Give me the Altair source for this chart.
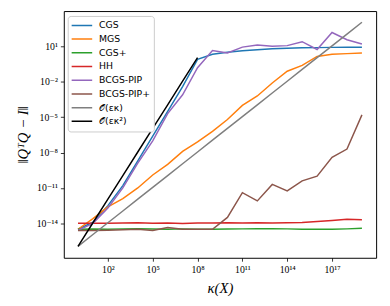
import altair as alt
import pandas as pd
import math

kappa = [1e0, 1e1, 1e2, 1e3, 1e4, 1e5, 1e6, 1e7, 1e8, 1e9,
         1e10, 1e11, 1e12, 1e13, 1e14, 1e15, 1e16, 1e17, 1e18, 1e19]

# log10 of ||Q^T Q - I||
cgs = [-14.5, -13.9, -12.5, -10.8, -8.7, -6.6, -4.5, -2.4, -0.1, 0.33,
       0.5, 0.63, 0.72, 0.8, 0.85, 0.88, 0.9, 0.92, 0.93, 0.94]
mgs = [-14.5, -13.6, -12.6, -11.9, -11.0, -9.9, -9.0, -7.9, -7.1, -6.2,
       -5.2, -4.0, -3.2, -2.1, -1.1, -0.6, 0.15, 0.33, 0.39, 0.45]
cgs_plus = [-14.5, -14.48, -14.5, -14.47, -14.45, -14.48, -14.5, -14.47, -14.5, -14.5,
            -14.48, -14.47, -14.45, -14.45, -14.47, -14.5, -14.5, -14.5, -14.47, -14.42]
hh = [-14.0, -14.0, -14.0, -13.98, -13.95, -14.0, -13.98, -14.02, -13.97, -13.97,
      -13.95, -13.97, -13.95, -13.98, -13.95, -13.93, -13.85, -13.75, -13.65, -13.7]
bcgs_pip = [-14.6, -14.0, -12.7, -11.0, -8.9, -7.0, -4.7, -3.1, -0.8, 0.66,
            0.45, 0.94, 1.13, 1.02, 1.07, 1.4, 0.74, 2.18, 1.57, 1.21]
bcgs_pip_plus = [-14.6, -14.6, -14.58, -14.55, -14.5, -14.6, -14.35, -14.5, -14.5, -14.5,
                 -13.5, -11.4, -12.1, -10.7, -11.25, -10.4, -10.0, -8.4, -7.7, -4.8]
o_eps_kappa = [-15.95, -14.95, -13.95, -12.95, -11.95, -10.95, -9.95, -8.95, -7.95, -6.95,
               -5.95, -4.95, -3.95, -2.95, -1.95, -0.95, 0.05, 1.05, 2.05, 3.05]
o_eps_kappa2 = [-15.95, -13.95, -11.95, -9.95, -7.95, -5.95, -3.95, -1.95, 0.05]

names = ["CGS", "MGS", "CGS+", "HH", "BCGS-PIP", "BCGS-PIP+", "𝒪(εκ)", "𝒪(εκ²)"]
colors = ["#1f77b4", "#ff7f0e", "#2ca02c", "#d62728", "#9467bd", "#8c564b", "#7f7f7f", "#000000"]
series = [cgs, mgs, cgs_plus, hh, bcgs_pip, bcgs_pip_plus, o_eps_kappa, o_eps_kappa2]

x_ticks = [1e2, 1e5, 1e8, 1e11, 1e14, 1e17]
y_ticks = [1e-14, 1e-11, 1e-8, 1e-5, 1e-2, 1e1]

rows = []
for i, (name, vals) in enumerate(zip(names, series)):
    for j, v in enumerate(vals):
        rows.append({"method": name, "kappa": kappa[j], "err": 10 ** v, "ord": i})
df = pd.DataFrame(rows)

SUP = str.maketrans("0123456789-", "⁰¹²³⁴⁵⁶⁷⁸⁹⁻")


def label_expr(ticks):
    e = "round(log(datum.value)/LN10)"
    parts = []
    for t in ticks:
        k = int(round(math.log10(t)))
        parts.append(f"{e}=={k} ? '10{str(k).translate(SUP)}' : ")
    return "".join(parts) + "''"


serif = "Liberation Serif, DejaVu Serif, serif"

chart = alt.Chart(df).mark_line(strokeWidth=1.5, clip=True).encode(
    x=alt.X("kappa:Q",
            scale=alt.Scale(type="log", domain=[10 ** -0.95, 10 ** 19.95], nice=False),
            axis=alt.Axis(values=x_ticks, labelExpr=label_expr(x_ticks), title="κ(X)",
                          titleFont=serif, titleFontStyle="italic", titleFontWeight="normal",
                          titleFontSize=15, titleColor="black", titlePadding=6,
                          labelFont=serif, labelFontSize=10, labelColor="black",
                          labelPadding=4, tickSize=3.5, tickColor="black", tickWidth=0.8,
                          domain=False, grid=False, labelFlush=False)),
    y=alt.Y("err:Q",
            scale=alt.Scale(type="log", domain=[10 ** -16.92, 10 ** 4.0], nice=False),
            axis=alt.Axis(values=y_ticks, labelExpr=label_expr(y_ticks), title="‖QᵀQ − I‖",
                          titleFont=serif, titleFontStyle="italic", titleFontWeight="normal",
                          titleFontSize=15, titleColor="black", titlePadding=6,
                          labelFont=serif, labelFontSize=10, labelColor="black",
                          labelPadding=3, tickSize=3.5, tickColor="black", tickWidth=0.8,
                          domain=False, grid=False, labelFlush=False)),
    color=alt.Color("method:N",
                    scale=alt.Scale(domain=names, range=colors),
                    legend=alt.Legend(orient="none", legendX=4, legendY=5, title=None,
                                      symbolType="stroke", symbolSize=440, symbolStrokeWidth=1.5,
                                      labelFont="DejaVu Sans", labelFontSize=9.5, labelColor="black",
                                      labelOffset=6, fillColor="white", strokeColor="#cccccc",
                                      cornerRadius=3, padding=3, clipHeight=13.3, rowPadding=0,
                                      labelLimit=200)),
    detail="ord:N",
).properties(
    width=319, height=252,
    autosize=alt.AutoSizeParams(type="none"),
    padding={"left": 57, "top": 0, "right": 6, "bottom": 40},
).configure_view(stroke="black", strokeWidth=1)

chart.save("out.html", embed_options={"renderer": "svg", "actions": False})
